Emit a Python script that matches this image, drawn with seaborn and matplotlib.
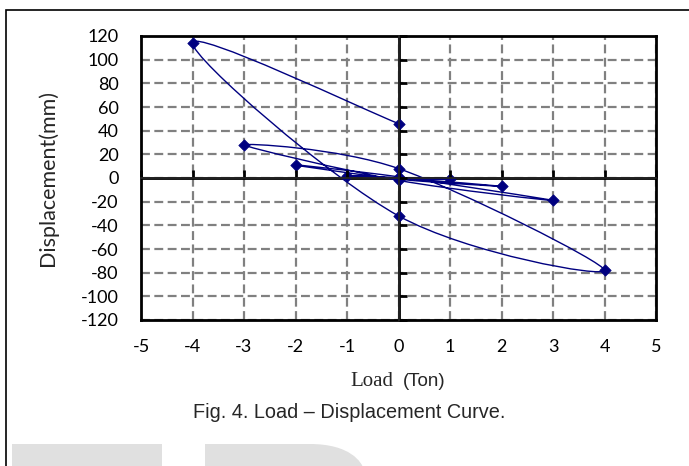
import numpy as np
import pandas as pd
import matplotlib
matplotlib.use("Agg")
import matplotlib.pyplot as plt
import seaborn as sns
from matplotlib.path import Path
from matplotlib.patches import PathPatch, Rectangle

# ---- data ----
load_ton = [0, 1, 0, -1, 0, 2, 0, -2, 0, 3, 0, -3, 0, 4, 0, -4, 0]
displacement_mm = [0, -1, 0, 2, 0, -7, -1, 11, 1, -19, -2, 28, 8, -78, -32, 114, 46]
x_ticks = [-5, -4, -3, -2, -1, 0, 1, 2, 3, 4, 5]
y_ticks = [120, 100, 80, 60, 40, 20, 0, -20, -40, -60, -80, -100, -120]

navy = "#000080"
grid_grey = "#808080"
W, H = 689, 466

sns.set_theme(style="white")
plt.rcParams["font.family"] = ["Lato", "DejaVu Sans"]

fig = plt.figure(figsize=(W / 100, H / 100), dpi=100)
ax = fig.add_axes([141 / W, 1 - 320 / H, (656 - 141) / W, (320 - 36) / H])

df = pd.DataFrame({"Load": load_ton, "Disp": displacement_mm})

# smoothed connecting line (Excel-style Bezier smoothing built from the data)
pts = df[["Load", "Disp"]].to_numpy(dtype=float)
verts = [pts[0]]
codes = [Path.MOVETO]
n = len(pts)
for i in range(n - 1):
    p0 = pts[i - 1] if i > 0 else pts[i]
    p1 = pts[i]
    p2 = pts[i + 1]
    p3 = pts[i + 2] if i + 2 < n else pts[i + 1]
    c1 = p1 + (p2 - p0) / 6.0
    c2 = p2 - (p3 - p1) / 6.0
    verts += [c1, c2, p2]
    codes += [Path.CURVE4] * 3
ax.add_patch(PathPatch(Path(verts, codes), fill=False, edgecolor=navy, lw=1.0, zorder=4))

sns.scatterplot(data=df, x="Load", y="Disp", marker="D", color=navy, edgecolor=navy,
                s=34, linewidth=0.5, ax=ax, zorder=5, legend=False)

ax.set_xlim(-5, 5)
ax.set_ylim(-120, 120)
ax.set_xticks(x_ticks)
ax.set_yticks(y_ticks)
ax.set_xticklabels([str(v) for v in x_ticks])
ax.set_yticklabels([str(v) for v in y_ticks])
ax.tick_params(axis="both", length=0, labelsize=13, colors="black")
ax.tick_params(axis="x", pad=14)
ax.tick_params(axis="y", pad=16)
ax.set_xlabel("")
ax.set_ylabel("")

ax.grid(True, color=grid_grey, linestyle=(0, (4, 2)), lw=1.6, zorder=1)
for s in ax.spines.values():
    s.set_visible(True)
    s.set_color("black")
    s.set_linewidth(2.0)

# zero axes
ax.axhline(0, color="black", lw=2.0, zorder=3)
ax.axvline(0, color="black", lw=2.0, zorder=3)
secx = ax.secondary_xaxis(0.5)
secx.set_xticks(x_ticks)
secx.set_xticklabels([])
secx.tick_params(direction="out", length=6, width=2.0, color="black")
secx.spines["bottom"].set_visible(False)
secx.set_zorder(6)
secy = ax.secondary_yaxis(0.5)
secy.set_yticks(y_ticks)
secy.set_yticklabels([])
secy.tick_params(direction="out", length=6, width=2.0, color="black")
secy.spines["left"].set_visible(False)
secy.set_zorder(6)

# labels
fig.text(48 / W, 1 - 178 / H, "Displacement(mm)", rotation=90, ha="center", va="center",
         fontsize=15.5, family=["Lato", "DejaVu Sans"])
fig.text(393 / W, 1 - 382 / H, "Load", ha="right", va="center", fontsize=15,
         family=["Liberation Serif"])
fig.text(403 / W, 1 - 382 / H, "(Ton)", ha="left", va="center", fontsize=13.5,
         family=["Liberation Sans"])
fig.text(349 / W, 1 - 412 / H, "Fig. 4. Load \u2013 Displacement Curve.", ha="center",
         va="center", fontsize=14.3, family=["Liberation Sans"])

# figure frame
fig.add_artist(Rectangle((6 / W, -0.1), 1.2, 1 - 10 / H + 0.1, transform=fig.transFigure,
                         fill=False, edgecolor="black", lw=1.2))


def fx(px, py):
    return (px / W, 1 - py / H)


# light grey watermark shapes at the bottom
fig.add_artist(Rectangle(fx(12, 470), 150 / W, 26 / H, transform=fig.transFigure,
                         facecolor="#e0e0e0", edgecolor="none"))
wm_verts = [fx(205, 470), fx(205, 444), fx(310, 444), fx(350, 444), fx(362, 462),
            fx(364, 470), fx(205, 470)]
wm_codes = [Path.MOVETO, Path.LINETO, Path.LINETO, Path.CURVE4, Path.CURVE4, Path.CURVE4,
            Path.CLOSEPOLY]
fig.add_artist(PathPatch(Path(wm_verts, wm_codes), transform=fig.transFigure,
                         facecolor="#e0e0e0", edgecolor="none"))

fig.savefig("out.png", dpi=100)
